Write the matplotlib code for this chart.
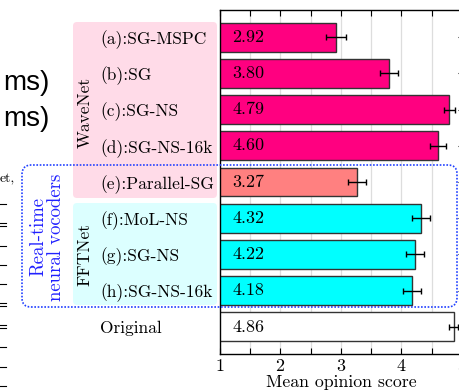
"""
Horizontal bar chart of mean opinion scores for a set of vocoders,
grouped by WaveNet / FFTNet with a real-time box drawn round them.
"""
import matplotlib
matplotlib.use("Agg")
import matplotlib.pyplot as plt
from matplotlib.patches import FancyBboxPatch
from matplotlib.lines import Line2D
from matplotlib.transforms import IdentityTransform

systems = ["(a):SG-MSPC", "(b):SG", "(c):SG-NS", "(d):SG-NS-16k",
           "(e):Parallel-SG", "(f):MoL-NS", "(g):SG-NS", "(h):SG-NS-16k",
           "Original"]
mos = [2.92, 3.80, 4.79, 4.60, 3.27, 4.32, 4.22, 4.18, 4.86]
ci = [0.16, 0.15, 0.09, 0.13, 0.15, 0.15, 0.15, 0.15, 0.08]
groups = ["wavenet"] * 4 + ["parallel"] + ["fftnet"] * 3 + ["original"]

group_colors = {"wavenet": "#ff0080", "parallel": "#ff8080",
                "fftnet": "#00ffff", "original": "white"}

W, H = 460, 391


def px_box(fig, x0, y0, x1, y1, **kw):
    """Rounded box given in image pixels (origin top-left)."""
    box = FancyBboxPatch((x0, H - y1), x1 - x0, y1 - y0,
                         transform=IdentityTransform(), **kw)
    fig.patches.append(box)
    return box


def main():
    plt.rcParams["font.family"] = "cmr10"
    plt.rcParams["axes.formatter.use_mathtext"] = True

    fig = plt.figure(figsize=(W / 100, H / 100), dpi=100)
    ax = fig.add_axes([220 / W, 1 - 354 / H, 242 / W, 344 / H])

    ypos = list(range(len(systems)))
    colors = [group_colors[g] for g in groups]
    ax.barh(ypos, mos, height=0.8, left=0, color=colors,
            edgecolor="#333333", linewidth=1.0, zorder=2)
    ax.errorbar(mos, ypos, xerr=ci, fmt="none", ecolor="black",
                elinewidth=1.0, capsize=2.5, capthick=1.0, zorder=3)
    for y, v in zip(ypos, mos):
        ax.text(1.2, y, f"{v:.2f}", ha="left", va="center", fontsize=13,
                zorder=4)

    ax.set_xlim(1, 5)
    ax.set_ylim(8.75, -0.75)
    ax.set_xticks([1, 2, 3, 4, 5])
    ax.set_xticks([1.5, 2.5, 3.5, 4.5], minor=True)
    ax.set_yticks(ypos)
    ax.set_yticklabels(systems, ha="left", fontsize=12.5)
    ax.tick_params(axis="y", direction="in", length=3, pad=86.4,
                   right=True, width=0.8)
    ax.tick_params(axis="x", which="both", direction="in", length=4,
                   top=True, labelsize=13, pad=3, width=0.8)
    ax.grid(axis="x", which="both", color="#dddddd", linewidth=0.9,
            zorder=0)
    ax.set_axisbelow(True)
    for s in ax.spines.values():
        s.set_linewidth(1.0)
    ax.set_xlabel("Mean opinion score", fontsize=12.8, labelpad=0)

    # group backgrounds behind the labels
    px_box(fig, 76, 25, 214, 195, boxstyle="round,pad=3,rounding_size=4",
           facecolor="#ffdbe8", edgecolor="none", zorder=-1)
    px_box(fig, 76, 206, 214, 302, boxstyle="round,pad=3,rounding_size=4",
           facecolor="#dcffff", edgecolor="none", zorder=-1)
    px_box(fig, 22, 165, 457, 307, boxstyle="round,pad=0,rounding_size=9",
           facecolor="none", edgecolor="#2040ff", linewidth=1.2,
           linestyle=(0, (1, 1)), zorder=5)

    fig.text(85 / W, 1 - 112 / H, "WaveNet", rotation=90, ha="center",
             va="center", fontsize=12.5)
    fig.text(85 / W, 1 - 254 / H, "FFTNet", rotation=90, ha="center",
             va="center", fontsize=12.5)
    fig.text(47 / W, 1 - 237 / H, "Real-time\nneural vocoders",
             rotation=90, ha="center", va="center", fontsize=13.5,
             color="#2020ff", linespacing=1.0)

    # fragments of the surrounding page
    for yy in [90, 126]:
        fig.text(50 / W, 1 - yy / H, "ms)", ha="right", va="baseline",
                 fontsize=20, family="Liberation Sans")
    fig.text(0, 1 - 182 / H, "et,", ha="left", va="baseline", fontsize=10)
    for yy in [204, 223, 226, 246, 265, 284, 303, 306, 325, 328, 347,
               367, 386]:
        fig.lines.append(Line2D([0, 6 / W], [1 - yy / H, 1 - yy / H],
                                transform=fig.transFigure, color="black",
                                linewidth=0.8))

    fig.savefig("out.png", dpi=100)


if __name__ == "__main__":
    main()
